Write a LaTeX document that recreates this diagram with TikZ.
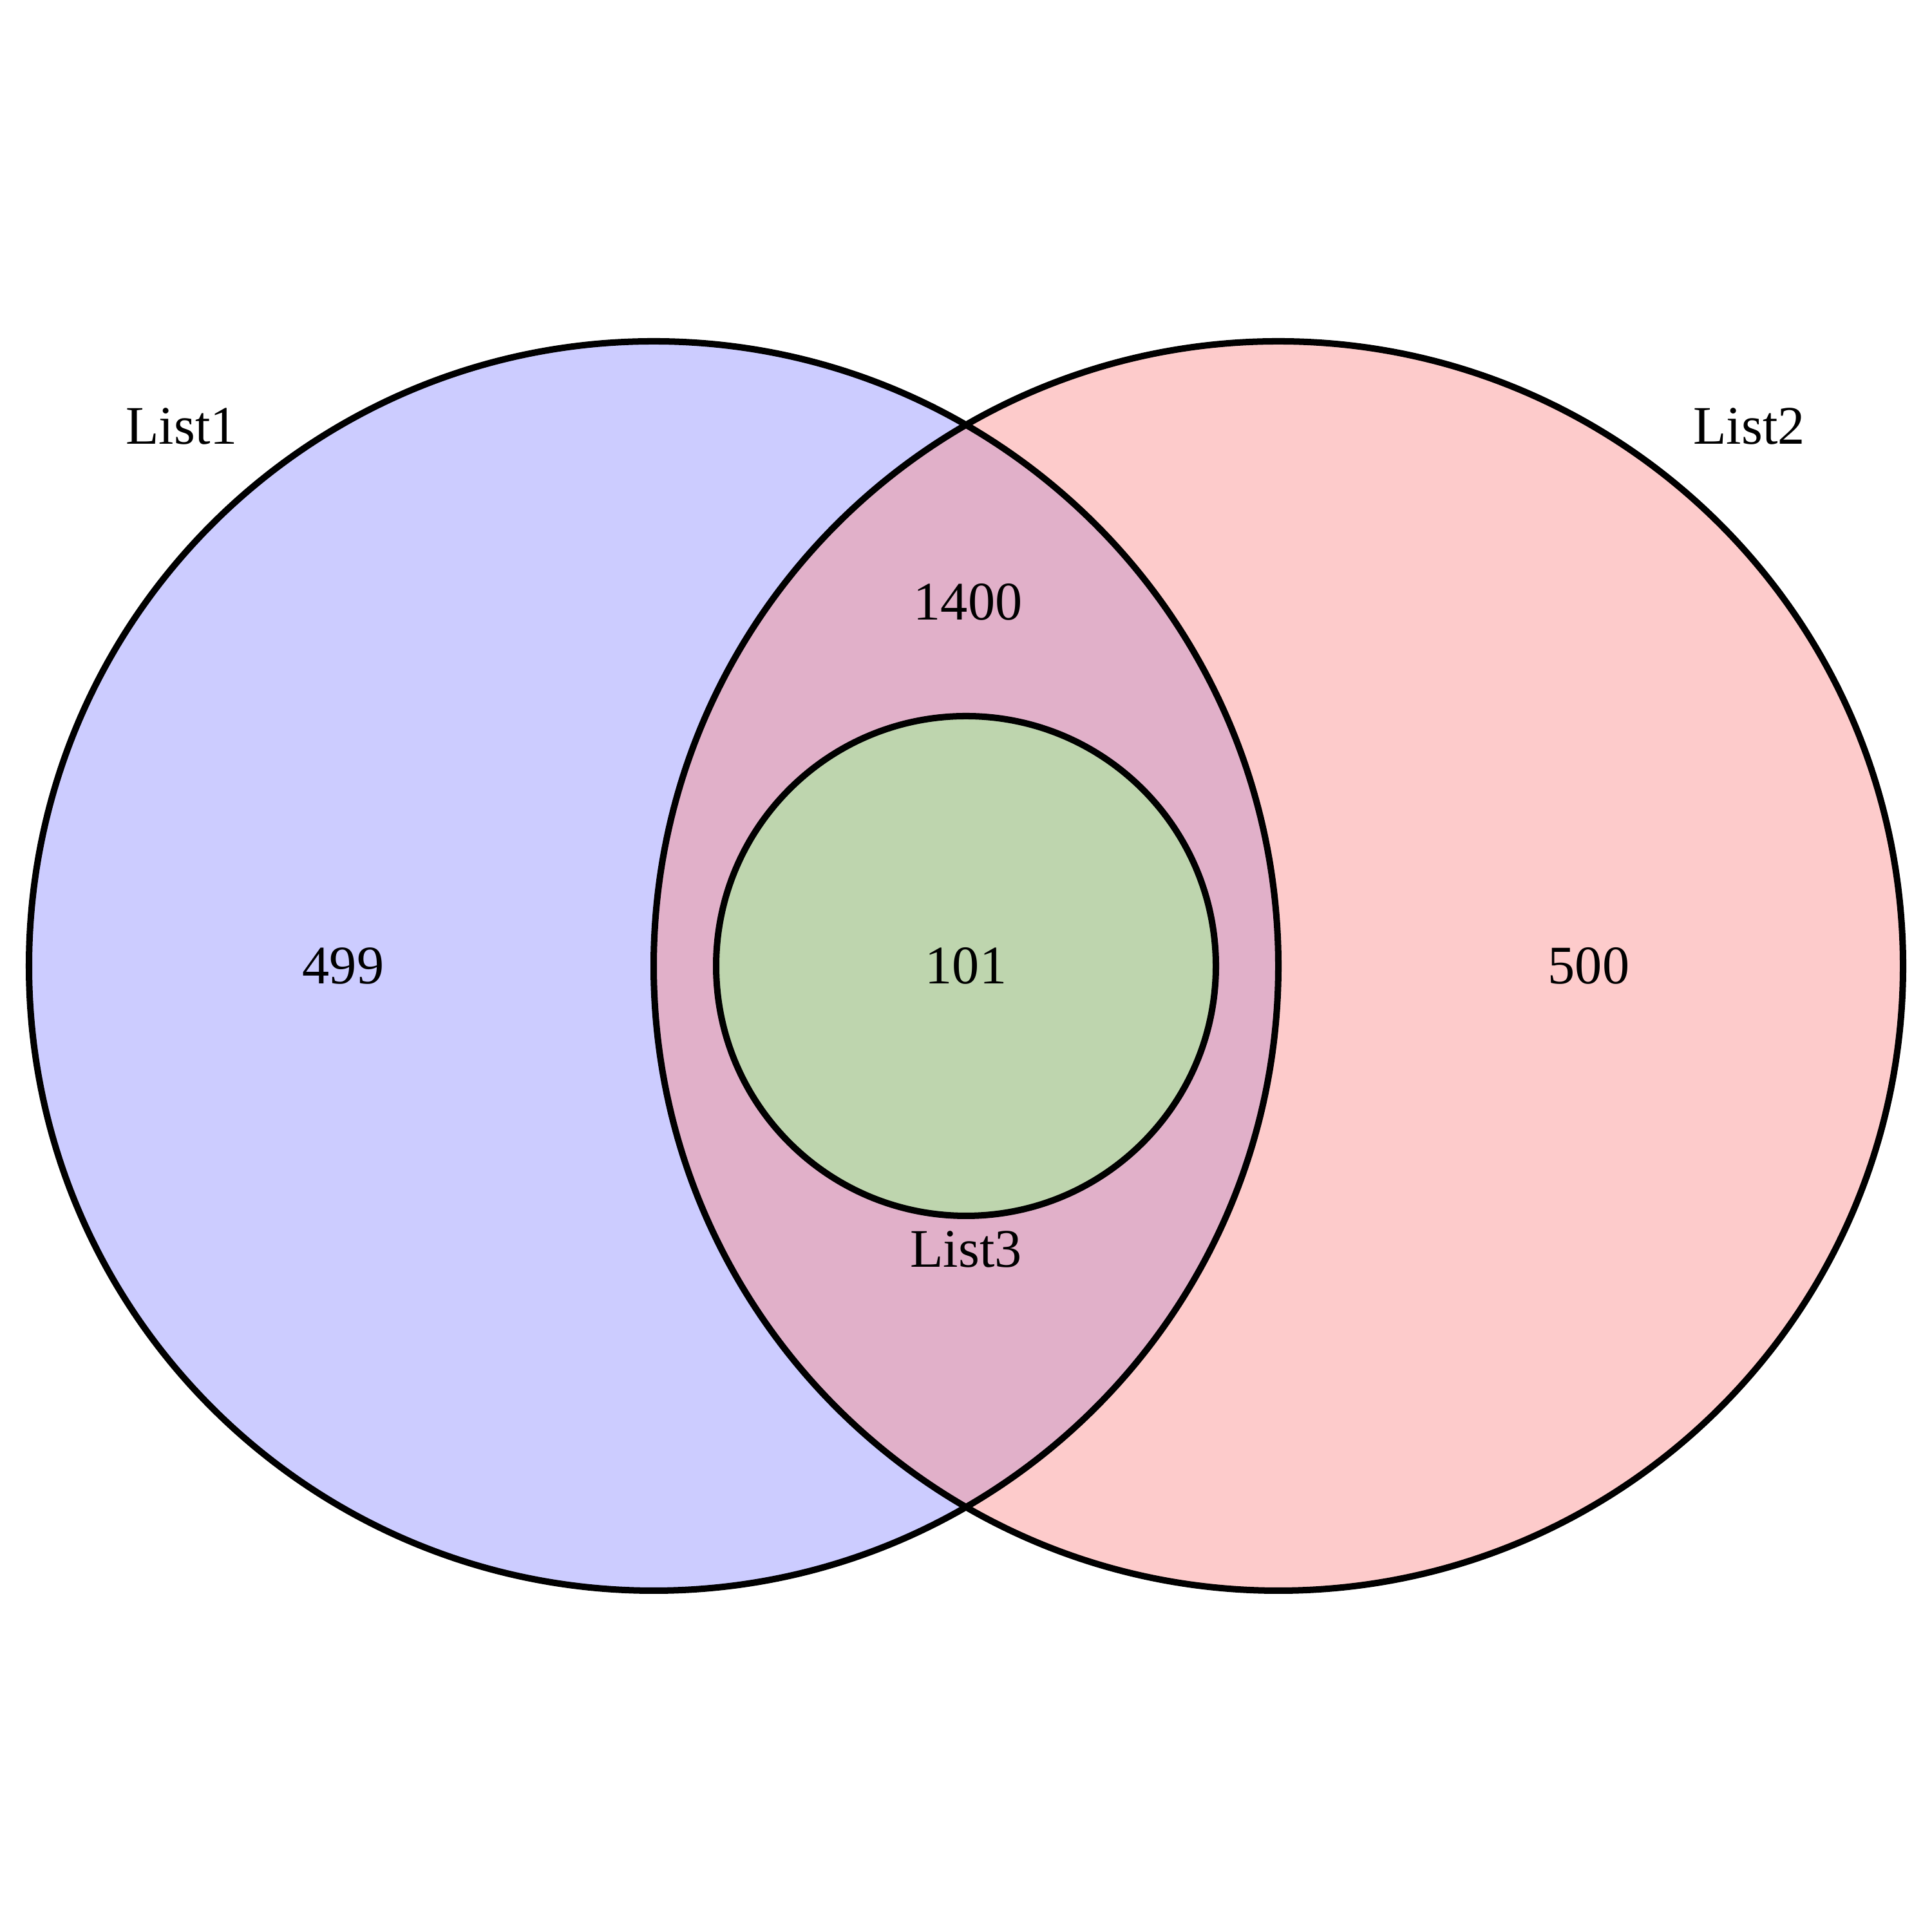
\documentclass[tikz,border=0pt]{standalone}
\usepackage{fontspec}
\setmainfont{Liberation Serif}
\definecolor{setA}{RGB}{204,204,255}
\definecolor{setB}{RGB}{253,203,203}
\definecolor{setAB}{RGB}{225,176,201}
\definecolor{setC}{RGB}{190,213,174}
\tikzset{
  outline/.style={draw=black, line width=2.85pt},
  lbl/.style={anchor=base, inner sep=0pt, font=\fontsize{24}{28}\selectfont}
}
\begin{document}
\begin{tikzpicture}
\useasboundingbox (0,0) rectangle (30,30);
\fill[white] (0,0) rectangle (30,30);
% fills
\fill[setA] (10.15,15) circle (9.70);
\fill[setB] (19.85,15) circle (9.70);
\begin{scope}
  \clip (10.15,15) circle (9.70);
  \fill[setAB] (19.85,15) circle (9.70);
\end{scope}
\fill[setC] (15,15) circle (3.88);
% outlines
\draw[outline] (10.15,15) circle (9.70);
\draw[outline] (19.85,15) circle (9.70);
\draw[outline] (15,15) circle (3.88);
% labels
\node[lbl] (l1) at (2.82,23.10) {List1};
\node[lbl] (l2) at (27.16,23.10) {List2};
\node[lbl] (l3) at (15.00,10.32) {List3};
\node[lbl] (n1400) at (15.03,20.37) {1400};
\node[lbl] (n499) at (5.33,14.72) {499};
\node[lbl] (n500) at (24.67,14.72) {500};
\node[lbl] (n101) at (15.00,14.72) {101};
\end{tikzpicture}
\end{document}
